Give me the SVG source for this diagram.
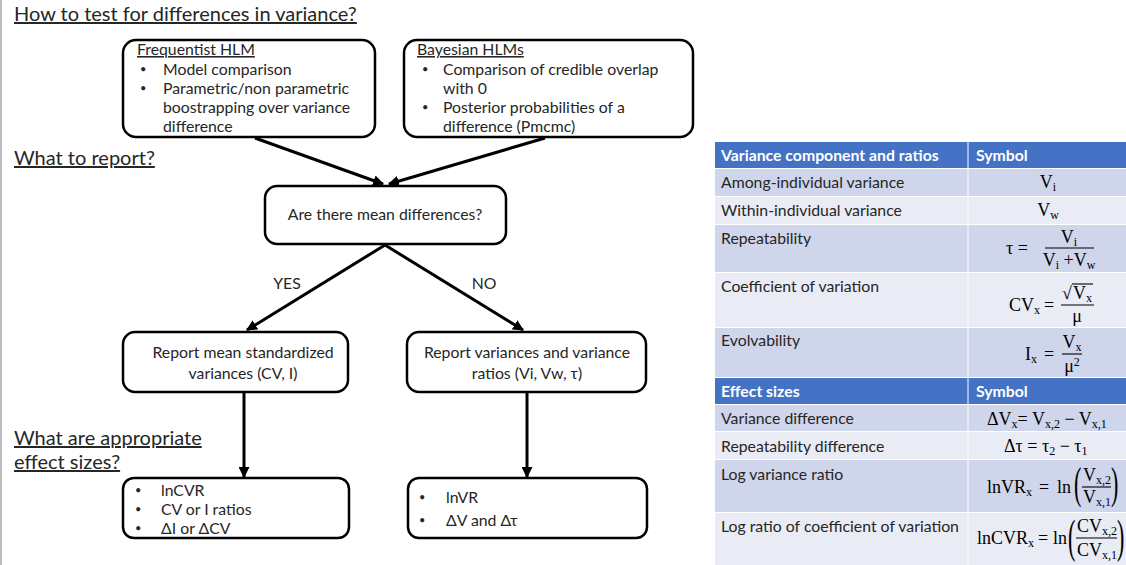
<svg xmlns="http://www.w3.org/2000/svg" width="1126" height="565" viewBox="0 0 1126 565">
<defs>
<style>
.t{font-family:Lato,"Open Sans",sans-serif;font-size:15.8px;fill:#262626}
.b{font-family:Lato,"Open Sans",sans-serif;font-size:11px;fill:#262626}
.h{font-family:Lato,"Open Sans",sans-serif;font-size:20px;fill:#262626;text-decoration:underline}
.u{text-decoration:underline}
.box{fill:#fff;stroke:#000;stroke-width:2.5}
.conn{stroke:#000;stroke-width:3;fill:none;marker-end:url(#ah)}
.m{font-family:"Liberation Serif","DejaVu Serif",serif;font-size:18px;fill:#000}
.s{font-size:12px}
.p{font-family:"Liberation Serif","DejaVu Serif",serif;font-size:22px;fill:#000}
.th{font-family:Lato,"Open Sans",sans-serif;font-size:15.8px;fill:#fff;font-weight:bold}
.hd{fill:#4472C4}
.d{fill:#CFD5EA}
.l{fill:#E9EBF5}
.fl{stroke:#000;stroke-width:1.1}
</style>
<marker id="ah" viewBox="0 0 10 10" refX="9" refY="5" markerWidth="11" markerHeight="11" markerUnits="userSpaceOnUse" orient="auto">
<path d="M0,0 L10,5 L0,10 z" fill="#000"/>
</marker>
</defs>
<rect width="1126" height="565" fill="#fff"/>
<line x1="1" y1="0" x2="1" y2="565" stroke="#bbb" stroke-width="2"/>

<g id="headings">
<text class="h" x="14" y="21">How to test for differences in variance?</text>
<text class="h" x="14" y="165">What to report?</text>
<text class="h" x="14" y="445">What are appropriate</text>
<text class="h" x="14" y="469">effect sizes?</text>
</g>

<g id="connectors">
<line class="conn" x1="255" y1="138" x2="383" y2="184"/>
<line class="conn" x1="545" y1="138" x2="389" y2="184"/>
<line class="conn" x1="385" y1="245" x2="247" y2="330"/>
<line class="conn" x1="385" y1="245" x2="523" y2="330"/>
<line class="conn" x1="244" y1="393" x2="244" y2="477"/>
<line class="conn" x1="527" y1="393" x2="527" y2="477"/>
<text class="t" x="287" y="289" text-anchor="middle">YES</text>
<text class="t" x="484" y="289" text-anchor="middle">NO</text>
</g>

<g id="frequentist">
<rect class="box" x="123" y="40" width="252" height="97" rx="13"/>
<text class="t u" x="137" y="55">Frequentist HLM</text>
<text class="b" x="140" y="73">•</text><text class="t" x="163" y="75">Model comparison</text>
<text class="b" x="140" y="92">•</text><text class="t" x="163" y="94">Parametric/non parametric</text>
<text class="t" x="163" y="113">boostrapping over variance</text>
<text class="t" x="163" y="132">difference</text>
</g>

<g id="bayesian">
<rect class="box" x="404" y="40" width="289" height="97" rx="13"/>
<text class="t u" x="417" y="55">Bayesian HLMs</text>
<text class="b" x="422" y="73">•</text><text class="t" x="443" y="75">Comparison of credible overlap</text>
<text class="t" x="443" y="94">with 0</text>
<text class="b" x="422" y="111">•</text><text class="t" x="443" y="113">Posterior probabilities of a</text>
<text class="t" x="443" y="132">difference (Pmcmc)</text>
</g>

<g id="decision">
<rect class="box" x="265" y="186" width="241" height="58" rx="12"/>
<text class="t" x="385" y="220" text-anchor="middle">Are there mean differences?</text>
</g>

<g id="report-mean">
<rect class="box" x="123" y="332" width="225" height="60" rx="12"/>
<text class="t" x="243" y="358" text-anchor="middle">Report mean standardized</text>
<text class="t" x="243" y="379" text-anchor="middle">variances (CV, I)</text>
</g>

<g id="report-var">
<rect class="box" x="407" y="332" width="239" height="60" rx="12"/>
<text class="t" x="527" y="358" text-anchor="middle">Report variances and variance</text>
<text class="t" x="527" y="379" text-anchor="middle">ratios (Vi, Vw, τ)</text>
</g>

<g id="effects-left">
<rect class="box" x="123" y="478" width="226" height="60" rx="11"/>
<text class="b" x="135" y="494">•</text><text class="t" x="161" y="496">lnCVR</text>
<text class="b" x="135" y="513">•</text><text class="t" x="161" y="515">CV or I ratios</text>
<text class="b" x="135" y="532">•</text><text class="t" x="161" y="534">ΔI or ΔCV</text>
</g>

<g id="effects-right">
<rect class="box" x="408" y="478" width="239" height="60" rx="11"/>
<text class="b" x="419" y="501">•</text><text class="t" x="446" y="503">lnVR</text>
<text class="b" x="419" y="524">•</text><text class="t" x="446" y="526">ΔV and Δτ</text>
</g>

<g id="table">
<rect class="hd" x="715" y="142" width="411" height="26"/>
<rect class="d" x="715" y="169" width="411" height="27"/>
<rect class="l" x="715" y="197" width="411" height="27"/>
<rect class="d" x="715" y="225" width="411" height="47"/>
<rect class="l" x="715" y="273" width="411" height="54"/>
<rect class="d" x="715" y="328" width="411" height="49"/>
<rect class="hd" x="715" y="378" width="411" height="26"/>
<rect class="d" x="715" y="405" width="411" height="26"/>
<rect class="l" x="715" y="432" width="411" height="27"/>
<rect class="d" x="715" y="460" width="411" height="52"/>
<rect class="l" x="715" y="513" width="411" height="52"/>
<line x1="968" y1="142" x2="968" y2="565" stroke="#fff" stroke-width="1"/>

<text class="th" x="721" y="161">Variance component and ratios</text>
<text class="th" x="976" y="161">Symbol</text>
<text class="t" x="721" y="188">Among-individual variance</text>
<text class="t" x="721" y="216">Within-individual variance</text>
<text class="t" x="721" y="244">Repeatability</text>
<text class="t" x="721" y="292">Coefficient of variation</text>
<text class="t" x="721" y="346">Evolvability</text>
<text class="th" x="721" y="397">Effect sizes</text>
<text class="th" x="976" y="397">Symbol</text>
<text class="t" x="721" y="424">Variance difference</text>
<text class="t" x="721" y="452">Repeatability difference</text>
<text class="t" x="721" y="480">Log variance ratio</text>
<text class="t" x="721" y="532">Log ratio of coefficient of variation</text>

<text class="m" x="1048" y="188" text-anchor="middle">V<tspan class="s" dy="3">i</tspan></text>
<text class="m" x="1048" y="216" text-anchor="middle">V<tspan class="s" dy="3">w</tspan></text>

<text class="m" x="1006" y="254">τ =</text>
<line class="fl" x1="1045" y1="248" x2="1094" y2="248"/>
<text class="m" x="1069" y="243" text-anchor="middle">V<tspan class="s" dy="3">i</tspan></text>
<text class="m" x="1069" y="266" text-anchor="middle">V<tspan class="s" dy="3">i</tspan><tspan dy="-3"> +V</tspan><tspan class="s" dy="3">w</tspan></text>

<text class="m" x="1009" y="311">CV<tspan class="s" dy="3">x</tspan></text>
<text class="m" x="1044" y="311">=</text>
<line class="fl" x1="1061" y1="305" x2="1094" y2="305"/>
<text class="m" x="1062" y="299">√</text>
<line class="fl" x1="1072" y1="284" x2="1093" y2="284"/>
<text class="m" x="1073" y="299">V<tspan class="s" dy="3">x</tspan></text>
<text class="m" x="1077" y="322" text-anchor="middle">μ</text>

<text class="m" x="1025" y="360">I<tspan class="s" dy="3">x</tspan></text>
<text class="m" x="1044" y="360">=</text>
<line class="fl" x1="1062" y1="354" x2="1082" y2="354"/>
<text class="m" x="1072" y="348" text-anchor="middle">V<tspan class="s" dy="3">x</tspan></text>
<text class="m" x="1072" y="372" text-anchor="middle">μ<tspan class="s" dy="-6">2</tspan></text>

<text class="m" x="987" y="425">ΔV<tspan class="s" dy="3">x</tspan><tspan dy="-3">=  V</tspan><tspan class="s" dy="3">x,2</tspan><tspan dy="-3"> − V</tspan><tspan class="s" dy="3">x,1</tspan></text>
<text class="m" x="1004" y="452">Δτ = τ<tspan class="s" dy="3">2</tspan><tspan dy="-3"> − τ</tspan><tspan class="s" dy="3">1</tspan></text>

<text class="m" x="987" y="493">lnVR<tspan class="s" dy="3">x</tspan></text>
<text class="m" x="1039" y="493">=</text>
<text class="m" x="1057" y="493">ln</text>
<text class="p" transform="translate(1074,498) scale(1,2)">(</text>
<line class="fl" x1="1082" y1="487" x2="1111" y2="487"/>
<text class="m" x="1083" y="481">V<tspan class="s" dy="3">x,2</tspan></text>
<text class="m" x="1083" y="503">V<tspan class="s" dy="3">x,1</tspan></text>
<text class="p" transform="translate(1111,498) scale(1,2)">)</text>

<text class="m" x="977" y="544">lnCVR<tspan class="s" dy="3">x</tspan></text>
<text class="m" x="1038" y="544">=</text>
<text class="m" x="1053" y="544">ln</text>
<text class="p" transform="translate(1068,552) scale(1,2.1)">(</text>
<line class="fl" x1="1076" y1="538" x2="1117" y2="538"/>
<text class="m" x="1077" y="532">CV<tspan class="s" dy="3">x,2</tspan></text>
<text class="m" x="1077" y="556">CV<tspan class="s" dy="3">x,1</tspan></text>
<text class="p" transform="translate(1117,552) scale(1,2.1)">)</text>
</g>
</svg>
